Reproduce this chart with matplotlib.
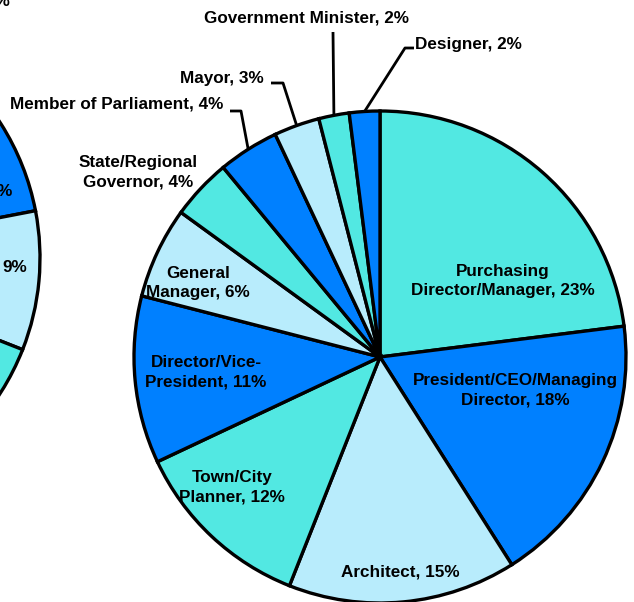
import numpy as np
import matplotlib
matplotlib.use("Agg")
import matplotlib.pyplot as plt

# ---------------- data ----------------
main_labels = ["Purchasing\nDirector/Manager", "President/CEO/Managing\nDirector", "Architect",
               "Town/City\nPlanner", "Director/Vice-\nPresident", "General\nManager",
               "State/Regional\nGovernor", "Member of Parliament", "Mayor",
               "Government Minister", "Designer"]
main_values = [23, 18, 15, 12, 11, 6, 4, 4, 3, 2, 2]

# second (partially visible) pie at the left edge
left_values = [12, 9, 12, 67]
left_labels = ["12%", "9%", "", ""]

CYAN = "#52E8E2"
BLUE = "#0080FF"
LIGHT = "#B8ECFC"
main_colors = [CYAN, BLUE, LIGHT] * 4
left_colors = [BLUE, LIGHT, CYAN, LIGHT]

W, H = 634, 602
fig = plt.figure(figsize=(W / 100, H / 100), dpi=100)
ax = fig.add_axes([0, 0, 1, 1])

FONT = dict(family="Liberation Sans", fontweight="bold", fontsize=12.3, color="black")
EDGE = dict(edgecolor="black", linewidth=2.4)

def Y(y):
    return H - y

# ---------------- main pie ----------------
cx, cy, R = 380, Y(357), 246
wedges, _ = ax.pie(main_values, colors=main_colors[:len(main_values)], startangle=90,
                   counterclock=False, center=(cx, cy), radius=R,
                   wedgeprops=EDGE, frame=True)

# ---------------- left pie (mostly off-canvas) ----------------
lcx, lcy, LR = -210, Y(258), 250
start = 10.9 + left_values[0] / sum(left_values) * 360
ax.pie(left_values, colors=left_colors, startangle=start, counterclock=False,
       center=(lcx, lcy), radius=LR, wedgeprops=EDGE, frame=True)

ax.set_xlim(0, W)
ax.set_ylim(0, H)
ax.set_aspect("equal")
ax.axis("off")

def lab(i):
    return f"{main_labels[i]}, {main_values[i]}%"

inside = {0: (503, 281), 1: (515, 390), 2: (400, 572), 3: (232, 487), 4: (206, 372), 5: (198, 283)}
for i, (x, y) in inside.items():
    ax.text(x, Y(y), lab(i), ha="center", va="center", linespacing=1.35, **FONT)

# outside labels
ax.text(138, Y(172), lab(6), ha="center", va="center", linespacing=1.35, **FONT)
ax.text(117, Y(104), lab(7), ha="center", va="center", **FONT)
ax.text(222, Y(78), lab(8), ha="center", va="center", **FONT)
ax.text(306, Y(18), lab(9), ha="center", va="center", **FONT)
ax.text(468, Y(44), lab(10), ha="center", va="center", **FONT)

def edge_pt(w):
    a = np.deg2rad((w.theta1 + w.theta2) / 2)
    return cx + R * np.cos(a), cy + R * np.sin(a)

leaders = {7: [(230, 111), (241, 111)],
           8: [(271, 83), (283, 83)],
           9: [(333, 32)],
           10: [(414, 48), (405, 48)]}
for i, pts in leaders.items():
    ex, ey = edge_pt(wedges[i])
    xs = [p[0] for p in pts] + [ex]
    ys = [Y(p[1]) for p in pts] + [ey]
    ax.plot(xs, ys, color="black", linewidth=2.0, solid_capstyle="butt", zorder=5)

# labels of the left pie (cut by the figure edge, as in the reference)
ax.text(13, Y(192), left_labels[0], ha="right", va="center", **FONT)
ax.text(15, Y(267), left_labels[1], ha="center", va="center", **FONT)
ax.text(10, Y(2), "5%", ha="right", va="center", **FONT)

fig.savefig("out.png", dpi=100)
